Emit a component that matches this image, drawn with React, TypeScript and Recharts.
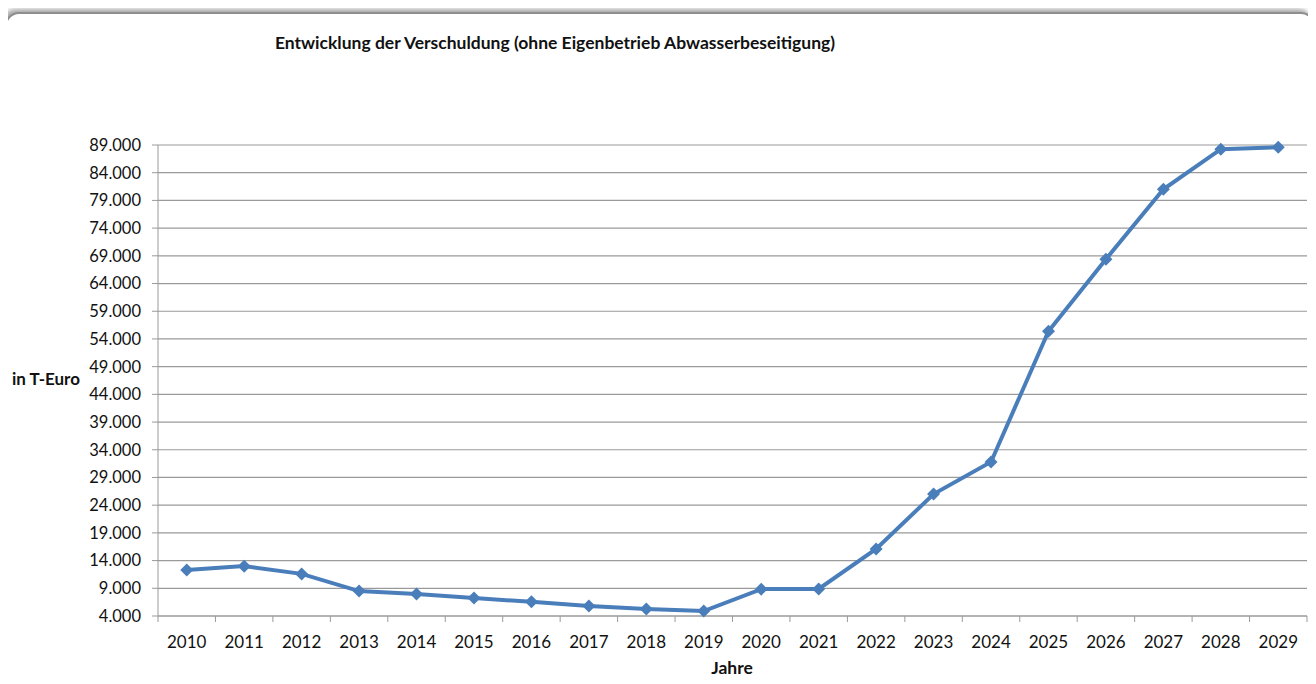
import { CartesianGrid, Line, LineChart, XAxis, YAxis } from 'recharts'

const years = ['2010', '2011', '2012', '2013', '2014', '2015', '2016', '2017', '2018', '2019',
  '2020', '2021', '2022', '2023', '2024', '2025', '2026', '2027', '2028', '2029']
const debt = [12300, 13000, 11600, 8500, 7950, 7250, 6550, 5800, 5250, 4900,
  8850, 8880, 16100, 26000, 31800, 55400, 68400, 81000, 88250, 88600]
const yTicks = [4000, 9000, 14000, 19000, 24000, 29000, 34000, 39000, 44000, 49000,
  54000, 59000, 64000, 69000, 74000, 79000, 84000, 89000]

const FONT = 'Lato, "Open Sans", sans-serif'
const BLUE = '#4a7ebb'
const GRID = '#9a9a9a'

const data = years.map((year, i) => ({ year, value: debt[i] }))

const fmt = (v: number) => String(v).replace(/\B(?=(\d{3})+(?!\d))/g, '.')

const STEP = (1307 - 158) / years.length

function YearTick(props: any) {
  const { x, y, payload, index } = props
  const last = index === years.length - 1
  return (
    <g>
      <line x1={x - STEP / 2} x2={x - STEP / 2} y1={y - 8} y2={y - 2} stroke={GRID} />
      {last ? <line x1={x + STEP / 2} x2={x + STEP / 2} y1={y - 8} y2={y - 2} stroke={GRID} /> : null}
      <text x={x} y={y + 24} textAnchor="middle" fontSize={17} fontFamily={FONT} fill="#111">
        {payload.value}
      </text>
    </g>
  )
}

function Diamond(props: any) {
  const { cx, cy } = props
  if (cx == null || cy == null) return null
  const r = 6.5
  return <path d={`M${cx},${cy - r}L${cx + r},${cy}L${cx},${cy + r}L${cx - r},${cy}Z`} fill={BLUE} />
}

export default function App() {
  return (
    <div style={{ position: 'relative', margin: -8, width: 1316, height: 684, overflow: 'hidden', background: '#fff' }}>
      <div
        style={{
          position: 'absolute',
          left: 5,
          top: 12,
          width: 1306,
          height: 690,
          border: '2px solid #8e8e8e',
          borderRadius: 14,
          boxShadow: '-3px -3px 5px rgba(0,0,0,0.35)',
          background: '#fff',
        }}
      />
      <div
        style={{
          position: 'absolute',
          left: 235,
          top: 32,
          width: 640,
          textAlign: 'center',
          fontFamily: FONT,
          fontWeight: 700,
          fontSize: 17.5,
          color: '#111',
        }}
      >
        Entwicklung der Verschuldung (ohne Eigenbetrieb Abwasserbeseitigung)
      </div>
      <div
        style={{ position: 'absolute', left: 12, top: 368, fontFamily: FONT, fontWeight: 700, fontSize: 17, color: '#111' }}
      >
        in T-Euro
      </div>
      <div
        style={{ position: 'absolute', left: 692, top: 657, width: 80, textAlign: 'center', fontFamily: FONT, fontWeight: 700, fontSize: 17.5, color: '#111' }}
      >
        Jahre
      </div>
      <div style={{ position: 'absolute', left: 0, top: 0 }}>
        <LineChart width={1316} height={684} data={data} margin={{ top: 145, right: 9, bottom: 18, left: 78 }}>
          <CartesianGrid vertical={false} stroke={GRID} strokeWidth={1.2} />
          <XAxis
            dataKey="year"
            interval={0}
            padding={{ left: STEP / 2, right: STEP / 2 }}
            height={50}
            stroke={GRID}
            tickLine={false}
            tick={<YearTick />}
          />
          <YAxis
            width={80}
            domain={[4000, 89000]}
            ticks={yTicks}
            interval={0}
            tickFormatter={fmt}
            stroke={GRID}
            tickSize={6}
            tickMargin={11}
            tick={{ fontSize: 16.5, fontFamily: FONT, fill: '#111' }}
          />
          <Line
            type="linear"
            dataKey="value"
            stroke={BLUE}
            strokeWidth={4}
            dot={<Diamond />}
            activeDot={false}
            isAnimationActive={false}
          />
        </LineChart>
      </div>
    </div>
  )
}
